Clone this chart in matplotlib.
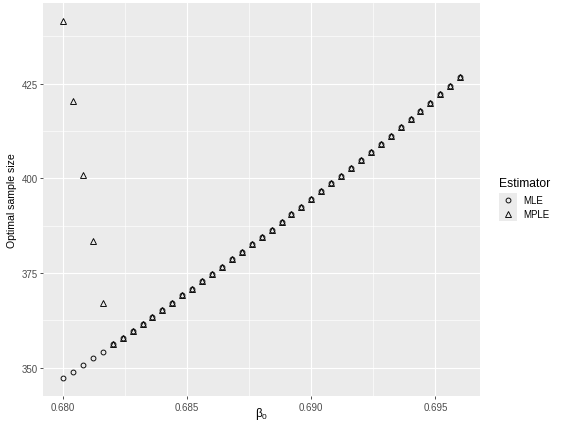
import matplotlib
matplotlib.use("Agg")
import matplotlib.pyplot as plt
from matplotlib import font_manager
from matplotlib.lines import Line2D
from matplotlib.patches import Rectangle
from matplotlib.ticker import MultipleLocator, FormatStrFormatter

plt.rcParams['font.family'] = ['Liberation Sans', 'DejaVu Sans']

# beta_0 grid (step 0.0004)
beta0 = [0.6800, 0.6804, 0.6808, 0.6812, 0.6816, 0.6820, 0.6824, 0.6828, 0.6832,
         0.6836, 0.6840, 0.6844, 0.6848, 0.6852, 0.6856, 0.6860, 0.6864, 0.6868,
         0.6872, 0.6876, 0.6880, 0.6884, 0.6888, 0.6892, 0.6896, 0.6900, 0.6904,
         0.6908, 0.6912, 0.6916, 0.6920, 0.6924, 0.6928, 0.6932, 0.6936, 0.6940,
         0.6944, 0.6948, 0.6952, 0.6956, 0.6960]

# optimal sample size, MLE
n_mle = [347.2, 348.9, 350.8, 352.6, 354.3, 356.2, 358.0, 359.8, 361.6, 363.5,
         365.3, 367.2, 369.1, 370.9, 372.8, 374.7, 376.7, 378.6, 380.6, 382.6,
         384.5, 386.5, 388.5, 390.5, 392.5, 394.5, 396.6, 398.7, 400.7, 402.8,
         404.9, 407.0, 409.2, 411.3, 413.5, 415.6, 417.8, 420.0, 422.2, 424.4,
         426.7]

# optimal sample size, MPLE
n_mple = [441.5, 420.4, 401.0, 383.4, 367.2, 356.2, 358.0, 359.8, 361.6, 363.5,
          365.3, 367.2, 369.1, 370.9, 372.8, 374.7, 376.7, 378.6, 380.6, 382.6,
          384.5, 386.5, 388.5, 390.5, 392.5, 394.5, 396.6, 398.7, 400.7, 402.8,
          404.9, 407.0, 409.2, 411.3, 413.5, 415.6, 417.8, 420.0, 422.2, 424.4,
          426.7]

W, H = 564, 427
fig = plt.figure(figsize=(W / 100, H / 100), dpi=100)

# panel position in pixels
left, right, top, bottom = 43.3, 480.0, 4.3, 397.3
ax = fig.add_axes([left / W, 1 - bottom / H, (right - left) / W, (bottom - top) / H])
ax.set_facecolor('#EBEBEB')
for s in ax.spines.values():
    s.set_visible(False)

ax.plot(beta0, n_mle, linestyle='none', marker='o', ms=3.5, mfc='none',
        mec='black', mew=0.65, label='MLE')
ax.plot(beta0, n_mple, linestyle='none', marker='^', ms=4.4, mfc='none',
        mec='black', mew=0.65, label='MPLE')

# ggplot-like 5% expansion
xr = max(beta0) - min(beta0)
allv = n_mle + n_mple
yr = max(allv) - min(allv)
ax.set_xlim(min(beta0) - 0.05 * xr, max(beta0) + 0.05 * xr)
ax.set_ylim(min(allv) - 0.05 * yr, max(allv) + 0.05 * yr)

ax.xaxis.set_major_locator(MultipleLocator(0.005))
ax.xaxis.set_minor_locator(MultipleLocator(0.0025))
ax.yaxis.set_major_locator(MultipleLocator(25))
ax.yaxis.set_minor_locator(MultipleLocator(12.5))
ax.xaxis.set_major_formatter(FormatStrFormatter('%.3f'))

ax.grid(which='major', color='white', linewidth=0.85)
ax.grid(which='minor', color='white', linewidth=0.45)
ax.set_axisbelow(True)
ax.tick_params(which='major', length=2.2, width=0.6, color='#333333',
               labelsize=7, labelcolor='#4D4D4D', pad=2)
ax.tick_params(which='minor', length=0)

# narrow face for the y title if present
try:
    font_manager.findfont('Liberation Sans Narrow', fallback_to_default=False)
    ylab_font = dict(family='Liberation Sans Narrow', fontsize=9)
except Exception:
    ylab_font = dict(family='Liberation Sans', fontsize=7.6)

ax.set_xlabel(r'$\mathregular{\beta_0}$', fontsize=8.5, va='center')
ax.xaxis.set_label_coords((261.5 - left) / (right - left), (bottom - 414) / (bottom - top))
ax.set_ylabel('Optimal sample size', va='center', **ylab_font)
ax.yaxis.set_label_coords((12 - left) / (right - left), 0.5)

# legend, ggplot style
def fx(px):
    return px / W

def fy(py):
    return 1 - py / H

fig.text(fx(499), fy(184), 'Estimator', fontsize=8.7, va='center', ha='left')
fig.add_artist(Rectangle((fx(499), fy(222)), fx(18), 28 / H,
                         transform=fig.transFigure, facecolor='#EBEBEB',
                         edgecolor='none'))
fig.add_artist(Line2D([fx(508)], [fy(201)], transform=fig.transFigure,
                      marker='o', ms=3.5, mfc='none', mec='black', mew=0.65,
                      linestyle='none'))
fig.add_artist(Line2D([fx(508)], [fy(215)], transform=fig.transFigure,
                      marker='^', ms=4.4, mfc='none', mec='black', mew=0.65,
                      linestyle='none'))
fig.text(fx(523), fy(201), 'MLE', fontsize=7, va='center', ha='left')
fig.text(fx(523), fy(215), 'MPLE', fontsize=7, va='center', ha='left')

fig.savefig('out.png', dpi=100)
